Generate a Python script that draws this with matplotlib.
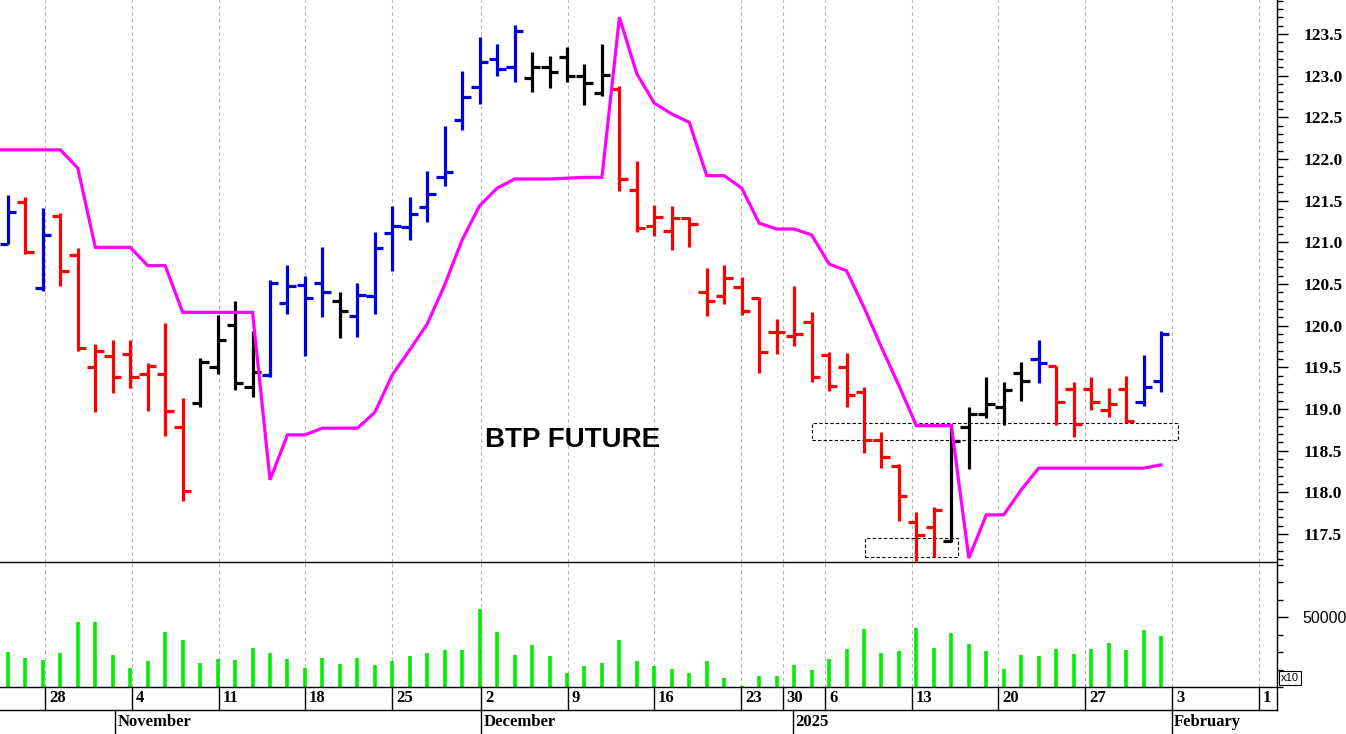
import matplotlib
matplotlib.use("Agg")
import matplotlib.pyplot as plt
from matplotlib.ticker import MultipleLocator, FixedLocator
from matplotlib.patches import Rectangle
from matplotlib.lines import Line2D
import matplotlib.transforms as mtrans

opens = [120.86,120.98,121.49,120.45,121.32,120.85,119.51,119.64,119.66,119.42,119.42,118.79,
         119.07,119.51,120.01,119.27,119.41,120.27,120.49,120.51,120.30,120.12,120.36,121.11,
         121.18,121.43,121.79,122.47,122.87,123.20,123.10,122.97,123.10,123.23,123.00,122.79,
         122.84,121.63,121.20,121.14,121.29,120.40,120.36,120.46,120.33,119.92,119.88,120.05,
         119.65,119.51,119.21,118.63,118.32,117.65,117.59,117.42,118.79,118.94,119.02,119.43,
         119.60,119.52,119.24,119.24,118.99,119.24,119.08,119.34]
highs = [120.95,121.57,121.55,121.41,121.35,120.93,119.78,119.83,119.83,119.55,120.03,119.13,
         119.61,120.13,120.30,119.94,120.55,120.73,120.60,120.94,120.40,120.51,121.13,121.44,
         121.55,121.86,122.40,123.06,123.47,123.38,123.61,123.29,123.24,123.35,123.14,123.38,
         122.88,121.98,121.45,121.44,121.31,120.69,120.73,120.58,120.35,120.08,120.48,120.17,
         119.69,119.67,119.26,118.72,118.34,117.76,117.83,118.82,119.02,119.38,119.32,119.56,
         119.83,119.52,119.32,119.38,119.25,119.40,119.65,119.94]
lows = [120.80,120.98,120.86,120.42,120.48,119.70,118.97,119.19,119.25,118.98,118.68,117.90,
        119.02,119.42,119.23,119.15,119.38,120.14,119.64,120.10,119.85,119.87,120.14,120.66,
        121.03,121.25,121.68,122.35,122.66,123.00,122.93,122.81,122.85,122.92,122.65,122.76,
        121.62,121.13,121.08,120.91,120.95,120.12,120.26,120.13,119.43,119.66,119.76,119.32,
        119.22,119.02,118.47,118.29,117.66,117.18,117.22,117.41,118.28,118.89,118.81,119.10,
        119.31,118.81,118.66,118.99,118.90,118.83,119.04,119.21]
closes = [120.86,121.36,120.89,121.09,120.66,119.73,119.70,119.38,119.38,119.52,118.98,118.02,
          119.56,119.83,119.31,119.45,120.51,120.48,120.33,120.40,120.18,120.37,120.93,121.20,
          121.34,121.58,121.85,122.75,123.16,123.08,123.54,123.10,123.05,123.00,122.91,123.01,
          121.76,121.17,121.31,121.29,121.22,120.30,120.57,120.18,119.69,119.93,119.90,119.38,
          119.28,119.17,118.63,118.42,117.96,117.49,117.79,118.62,118.94,119.06,119.23,119.34,
          119.55,119.08,118.82,119.09,119.06,118.86,119.26,119.90]
bar_colors = (["r", "b", "r", "b"] + ["r"] * 8 + ["k"] * 4 + ["b"] * 4 + ["k"] + ["b"] * 10 +
              ["k"] * 5 + ["r"] * 19 + ["k"] * 5 + ["b"] + ["r"] * 5 + ["b"] * 2)
stop_line = [122.11,122.11,122.11,122.11,122.11,121.89,120.94,120.94,120.94,120.72,120.72,120.16,
             120.16,120.16,120.16,120.16,118.15,118.69,118.69,118.77,118.77,118.77,118.96,119.41,
             119.71,120.02,120.49,121.03,121.44,121.65,121.76,121.76,121.76,121.77,121.78,121.78,
             123.70,123.02,122.67,122.54,122.44,121.80,121.80,121.65,121.23,121.16,121.16,121.09,
             120.74,120.66,120.22,119.74,119.28,118.80,118.80,118.80,117.21,117.73,117.73,118.03,
             118.29,118.29,118.29,118.29,118.29,118.29,118.29,118.33]
volumes = [0,25000,20900,19000,24500,46400,46400,23100,13800,18300,39300,33300,17100,20200,19000,
           28100,24300,20200,13800,20900,16200,20900,15500,18300,22100,24500,26200,26200,55900,
           39300,23100,30200,22100,10200,15000,17100,33300,18300,15000,13100,10000,18300,6700,500,
           8100,7600,15900,11900,20200,27400,41700,24500,25500,42400,28100,38600,30500,25500,13100,
           23100,22400,27400,23300,27400,31700,26200,40500,36400]
week_labels = ["28","4","11","18","25","2","9","16","23","30","6","13","20","27","3","1"]
week_pos = [3.12,8.10,13.08,18.00,22.98,28.08,33.06,37.98,42.96,45.36,47.77,52.75,57.67,62.65,67.63,72.61]
month_labels = ["November","December","2025","February"]
month_pos = [7.13,28.08,45.94,67.63]
box1 = (47.0, 67.97, 118.63, 118.83)
box2 = (50.05, 55.40, 117.22, 117.45)

colmap = {"r": "#ff0000", "b": "#0000dd", "k": "#000000"}
W, H = 1346, 734
fig = plt.figure(figsize=(W/100, H/100), dpi=100)
axr = 1277 / W
ax1 = fig.add_axes([0, 1 - 562/H, axr, 562/H])
ax2 = fig.add_axes([0, 1 - 687/H, axr, 125/H])
xlim = (0.544, 73.64)
n = len(opens)
xs = list(range(n))
tl = 0.48
for i in xs:
    c = colmap[bar_colors[i]]
    ax1.vlines(i, lows[i], highs[i], color=c, lw=2.3, capstyle="butt")
    ax1.hlines(opens[i], i - tl, i, color=c, lw=2.3)
    ax1.hlines(closes[i], i, i + tl, color=c, lw=2.3)
ax1.plot(xs, stop_line, color="#ff00ff", lw=2.3, solid_joinstyle="miter")
for (x0, x1, y0, y1) in (box1, box2):
    ax1.add_patch(Rectangle((x0, y0), x1 - x0, y1 - y0, fill=False, ls=(0, (3, 2)), lw=0.8, ec="k"))
ax1.text(33.3, 118.63, "BTP FUTURE", fontsize=20, fontweight="bold", family="Liberation Sans",
         ha="center", va="center")
ax1.set_xlim(*xlim)
ax1.set_ylim(117.164, 123.908)
ax2.vlines(xs, 0, volumes, color="#00ee00", lw=2.6)
ax2.set_xlim(*xlim)
ax2.set_ylim(0, 89300)

for ax in (ax1, ax2):
    for p in week_pos:
        ax.axvline(p, color="#b0b0b0", lw=0.8, ls=(0, (3, 3)), zorder=0)
    ax.set_xticks([])
    for s in ("top", "left", "bottom"):
        ax.spines[s].set_visible(False)
    ax.spines["right"].set_linewidth(1)
    ax.yaxis.tick_right()

for yp in (562, 687, 710):
    fig.add_artist(Line2D([0, axr], [1 - yp/H, 1 - yp/H], transform=fig.transFigure,
                          color="k", lw=1, zorder=10))
fig.add_artist(Line2D([axr, axr], [1 - 710/H, 1 - 687/H], transform=fig.transFigure, color="k", lw=1))

ax1.yaxis.set_major_locator(MultipleLocator(0.5))
ax1.yaxis.set_minor_locator(MultipleLocator(0.1))
ax1.yaxis.set_major_formatter(matplotlib.ticker.FormatStrFormatter("%.1f"))
ax1.tick_params(axis="y", which="major", length=8, width=1, pad=11, labelsize=12.5)
ax1.tick_params(axis="y", which="minor", length=4, width=1)
for t in ax1.get_yticklabels():
    t.set_fontfamily("Liberation Serif")
    t.set_fontweight("bold")
ax2.yaxis.set_major_locator(FixedLocator([50000]))
ax2.yaxis.set_minor_locator(MultipleLocator(12500))
ax2.tick_params(axis="y", which="major", length=8, width=1, pad=10, labelsize=11.5)
ax2.tick_params(axis="y", which="minor", length=4, width=1)
for t in ax2.get_yticklabels():
    t.set_fontfamily("Liberation Sans")

tr = mtrans.blended_transform_factory(ax2.transData, ax2.transAxes)
r1 = -23/125
r2 = -47/125
for p, lab in zip(week_pos, week_labels):
    ax2.plot([p, p], [0, r1], transform=tr, color="k", lw=1, clip_on=False)
    ax2.text(p + 0.22, r1 / 2, lab, transform=tr, fontsize=12, fontweight="bold",
             family="Liberation Serif", va="center", ha="left", clip_on=False)
for p, lab in zip(month_pos, month_labels):
    ax2.plot([p, p], [r1, r2], transform=tr, color="k", lw=1, clip_on=False)
    ax2.text(p + 0.12, (r1 + r2) / 2, lab, transform=tr, fontsize=12, fontweight="bold",
             family="Liberation Serif", va="center", ha="left", clip_on=False)
fig.text(1281/W, 1 - 678/H, "x10", fontsize=8, family="Liberation Sans", va="center", ha="left",
         bbox=dict(boxstyle="square,pad=0.15", fc="white", ec="k", lw=0.8))
fig.savefig("out.png", dpi=100)
